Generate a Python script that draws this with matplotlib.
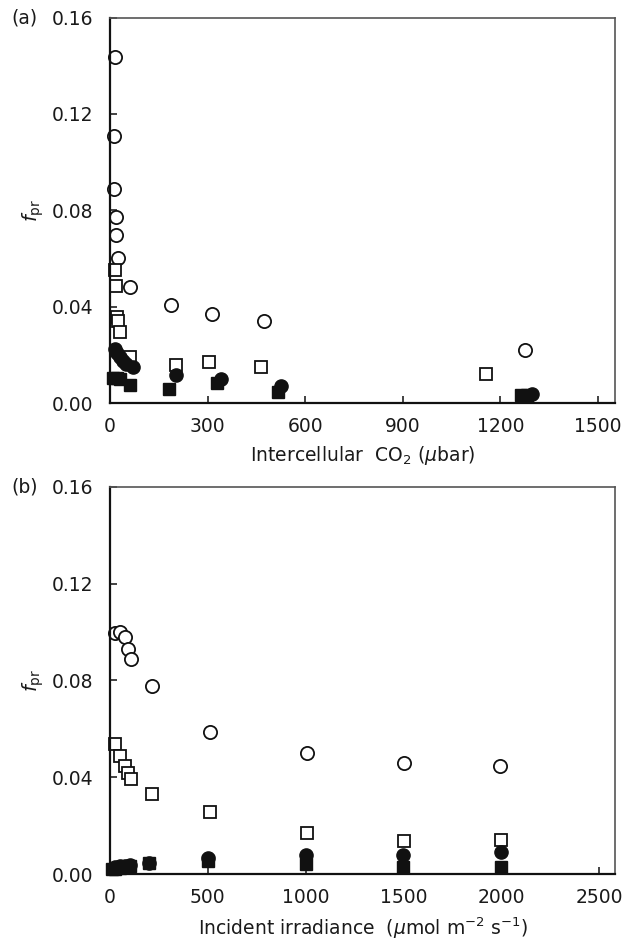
import numpy as np
import matplotlib
matplotlib.use("Agg")
import matplotlib.pyplot as plt

plt.rcParams['font.family'] = ['DejaVu Sans']
plt.rcParams['mathtext.fontset'] = 'dejavusans'

# panel (a): intercellular CO2
a_open_circle_x = [15, 12, 12, 18, 18, 25, 61, 187, 313, 473, 1276]
a_open_circle_y = [0.1436, 0.111, 0.0888, 0.0772, 0.0698, 0.0602, 0.0482, 0.0407, 0.0369, 0.0341, 0.022]
a_open_square_x = [15, 18, 21, 24, 30, 61, 202, 303, 464, 1156]
a_open_square_y = [0.0552, 0.0486, 0.0357, 0.0340, 0.0294, 0.0191, 0.0158, 0.0171, 0.0150, 0.0120]
a_filled_circle_x = [15, 21, 31, 40, 49, 71, 203, 340, 525, 1297]
a_filled_circle_y = [0.0224, 0.0208, 0.0190, 0.0174, 0.0160, 0.0150, 0.0116, 0.0098, 0.0070, 0.0037]
a_filled_square_x = [8, 20, 30, 61, 181, 328, 516, 1263, 1282]
a_filled_square_y = [0.0103, 0.0103, 0.0100, 0.0075, 0.0058, 0.0083, 0.0046, 0.0035, 0.0035]

# panel (b): incident irradiance
b_open_circle_x = [26, 51, 77, 94, 109, 215, 511, 1007, 1503, 1994]
b_open_circle_y = [0.0997, 0.1000, 0.0980, 0.0930, 0.0889, 0.0777, 0.0587, 0.0500, 0.0459, 0.0446]
b_open_square_x = [28, 49, 75, 93, 109, 215, 511, 1007, 1503, 2000]
b_open_square_y = [0.0537, 0.0488, 0.0446, 0.0417, 0.0393, 0.0331, 0.0256, 0.0170, 0.0136, 0.0140]
b_filled_circle_x = [25, 50, 75, 100, 200, 500, 1000, 1500, 2000]
b_filled_circle_y = [0.0030, 0.0032, 0.0035, 0.0038, 0.0045, 0.0065, 0.0078, 0.0080, 0.0089]
b_filled_square_x = [10, 25, 50, 75, 100, 200, 500, 1000, 1500, 2000]
b_filled_square_y = [0.0020, 0.0022, 0.0025, 0.0030, 0.0033, 0.0045, 0.0055, 0.0040, 0.0030, 0.0030]

y_ticks = [0, 0.04, 0.08, 0.12, 0.16]
a_x_ticks = [0, 300, 600, 900, 1200, 1500]
b_x_ticks = [0, 500, 1000, 1500, 2000, 2500]

fig = plt.figure(figsize=(6.25, 9.41), dpi=100)
ax_a = fig.add_axes([0.176, 0.5717, 0.808, 0.4097])
ax_b = fig.add_axes([0.176, 0.0712, 0.808, 0.4113])


def style_axes(ax, xticks, xmax, xlabel):
    ax.set_xlim(0, xmax)
    ax.set_ylim(0, 0.16)
    ax.set_xticks(xticks)
    ax.set_yticks(y_ticks)
    ax.set_yticklabels(["%.2f" % v for v in y_ticks])
    ax.tick_params(direction='in', length=5, width=1.2, labelsize=13.5,
                   top=False, right=False, color='#222222', labelcolor='#1a1a1a')
    ax.tick_params(axis='y', pad=12)
    ax.tick_params(axis='x', pad=10)
    for side in ['left', 'bottom']:
        ax.spines[side].set_linewidth(1.6)
        ax.spines[side].set_color('#111111')
    for side in ['top', 'right']:
        ax.spines[side].set_linewidth(1.2)
        ax.spines[side].set_color('#555555')
    ax.set_xlabel(xlabel, fontsize=13.5, labelpad=6, color='#1a1a1a')
    ax.set_ylabel(r'$f_{\rm pr}$', fontsize=14, labelpad=4, color='#1a1a1a')


def draw(ax, ox, oy, sx, sy, fcx, fcy, fsx, fsy):
    ax.plot(ox, oy, 'o', ms=9.5, mfc='white', mec='#111111', mew=1.3, clip_on=False)
    ax.plot(sx, sy, 's', ms=9, mfc='white', mec='#111111', mew=1.3, clip_on=False)
    ax.plot(fcx, fcy, 'o', ms=9.5, mfc='#111111', mec='#111111', clip_on=False)
    ax.plot(fsx, fsy, 's', ms=9, mfc='#111111', mec='#111111', clip_on=False)


draw(ax_a, a_open_circle_x, a_open_circle_y, a_open_square_x, a_open_square_y,
     a_filled_circle_x, a_filled_circle_y, a_filled_square_x, a_filled_square_y)
draw(ax_b, b_open_circle_x, b_open_circle_y, b_open_square_x, b_open_square_y,
     b_filled_circle_x, b_filled_circle_y, b_filled_square_x, b_filled_square_y)

style_axes(ax_a, a_x_ticks, 1552, r'Intercellular  CO$_2$ ($\mu$bar)')
style_axes(ax_b, b_x_ticks, 2582, r'Incident irradiance  ($\mu$mol m$^{-2}$ s$^{-1}$)')

fig.text(0.018, 0.981, '(a)', fontsize=13.5, va='center', ha='left', color='#1a1a1a')
fig.text(0.018, 0.4825, '(b)', fontsize=13.5, va='center', ha='left', color='#1a1a1a')

fig.savefig('out.png', dpi=100)
